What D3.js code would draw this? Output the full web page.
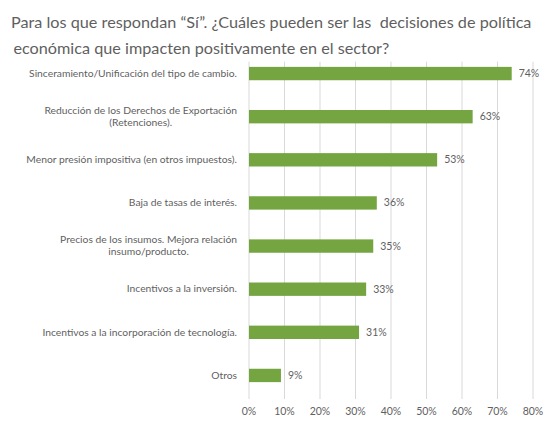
<!DOCTYPE html>
<html>
<head>
<meta charset="utf-8">
<script src="https://cdn.jsdelivr.net/npm/d3@7"></script>
<style>
  html, body { margin: 0; padding: 0; background: #fff; }
  svg text { font-family: Lato, "Open Sans", sans-serif; fill: #5f5f5f; white-space: pre; }
</style>
</head>
<body>
<div id="chart"></div>
<script>
const VIEW_W = 551;
const VIEW_H = 425;

const TITLE_LINES = [
  "Para los que respondan \u201cSí\u201d. ¿Cuáles pueden ser las  decisiones de política",
  "económica que impacten positivamente en el sector?"
];
const CATEGORIES = [
  "Sinceramiento/Unificación del tipo de cambio.",
  "Reducción de los Derechos de Exportación\n(Retenciones).",
  "Menor presión impositiva (en otros impuestos).",
  "Baja de tasas de interés.",
  "Precios de los insumos. Mejora relación\ninsumo/producto.",
  "Incentivos a la inversión.",
  "Incentivos a la incorporación de tecnología.",
  "Otros"
];
const VALUES = [0.74, 0.63, 0.53, 0.36, 0.35, 0.33, 0.31, 0.09];
const X_TICKS = [0, 0.1, 0.2, 0.3, 0.4, 0.5, 0.6, 0.7, 0.8];

const PLOT = { left: 249, right: 533, bandTop: 52, bandBottom: 397, gridTop: 61.7, gridBottom: 399 };
const BAR_COLOR = "#74a540";
const GRID_COLOR = "#d9d9d9";
const pct = d3.format(".0%");

const svg = d3.select("#chart").append("svg")
  .attr("width", VIEW_W).attr("height", VIEW_H)
  .attr("viewBox", `0 0 ${VIEW_W} ${VIEW_H}`);

const x = d3.scaleLinear().domain([0, 0.8]).range([PLOT.left, PLOT.right]);
const y = d3.scaleBand().domain(CATEGORIES).range([PLOT.bandTop, PLOT.bandBottom])
  .paddingInner(0.69).paddingOuter(0.345);

// title, sized so the first line spans the same width as the original
const title = svg.append("g").attr("class", "title");
const t1 = title.append("text").attr("x", 11).attr("y", 28.3).attr("font-size", 18).text(TITLE_LINES[0]);
const fit = 18 * 521 / t1.node().getComputedTextLength();
t1.attr("font-size", fit);
title.append("text").attr("x", 13.4).attr("y", 54).attr("font-size", fit).text(TITLE_LINES[1]);

// vertical gridlines
svg.append("g").selectAll("line").data(X_TICKS).join("line")
  .attr("x1", (d) => x(d)).attr("x2", (d) => x(d))
  .attr("y1", PLOT.gridTop).attr("y2", PLOT.gridBottom)
  .attr("stroke", GRID_COLOR).attr("stroke-width", 1);

// tick labels
svg.append("g").selectAll("text").data(X_TICKS).join("text")
  .attr("x", (d) => x(d)).attr("y", 415)
  .attr("text-anchor", "middle").attr("font-size", 10.5)
  .text((d) => pct(d));

// bars
const rows = CATEGORIES.map((c, i) => ({ c, v: VALUES[i] }));
svg.append("g").selectAll("rect").data(rows).join("rect")
  .attr("x", x(0)).attr("y", (d) => y(d.c))
  .attr("width", (d) => x(d.v) - x(0)).attr("height", y.bandwidth())
  .attr("fill", BAR_COLOR);

// value labels
svg.append("g").selectAll("text").data(rows).join("text")
  .attr("x", (d) => x(d.v) + 7)
  .attr("y", (d) => y(d.c) + y.bandwidth() / 2 + 3.5)
  .attr("font-size", 10.5)
  .text((d) => pct(d.v));

// category labels: block right-aligned, lines centred within it
const LINE_H = 12.4;
const LABEL_RIGHT = 237;
const catG = svg.append("g");
rows.forEach((d) => {
  const lines = d.c.split("\n");
  const mid = y(d.c) + y.bandwidth() / 2;
  const g = catG.append("g");
  const texts = lines.map((ln, i) => g.append("text")
    .attr("y", mid + 3.2 + (i - (lines.length - 1) / 2) * LINE_H)
    .attr("font-size", 10.3)
    .attr("text-anchor", "middle")
    .text(ln));
  const maxW = d3.max(texts, (t) => t.node().getComputedTextLength());
  texts.forEach((t) => t.attr("x", LABEL_RIGHT - maxW / 2));
});
</script>
</body>
</html>
